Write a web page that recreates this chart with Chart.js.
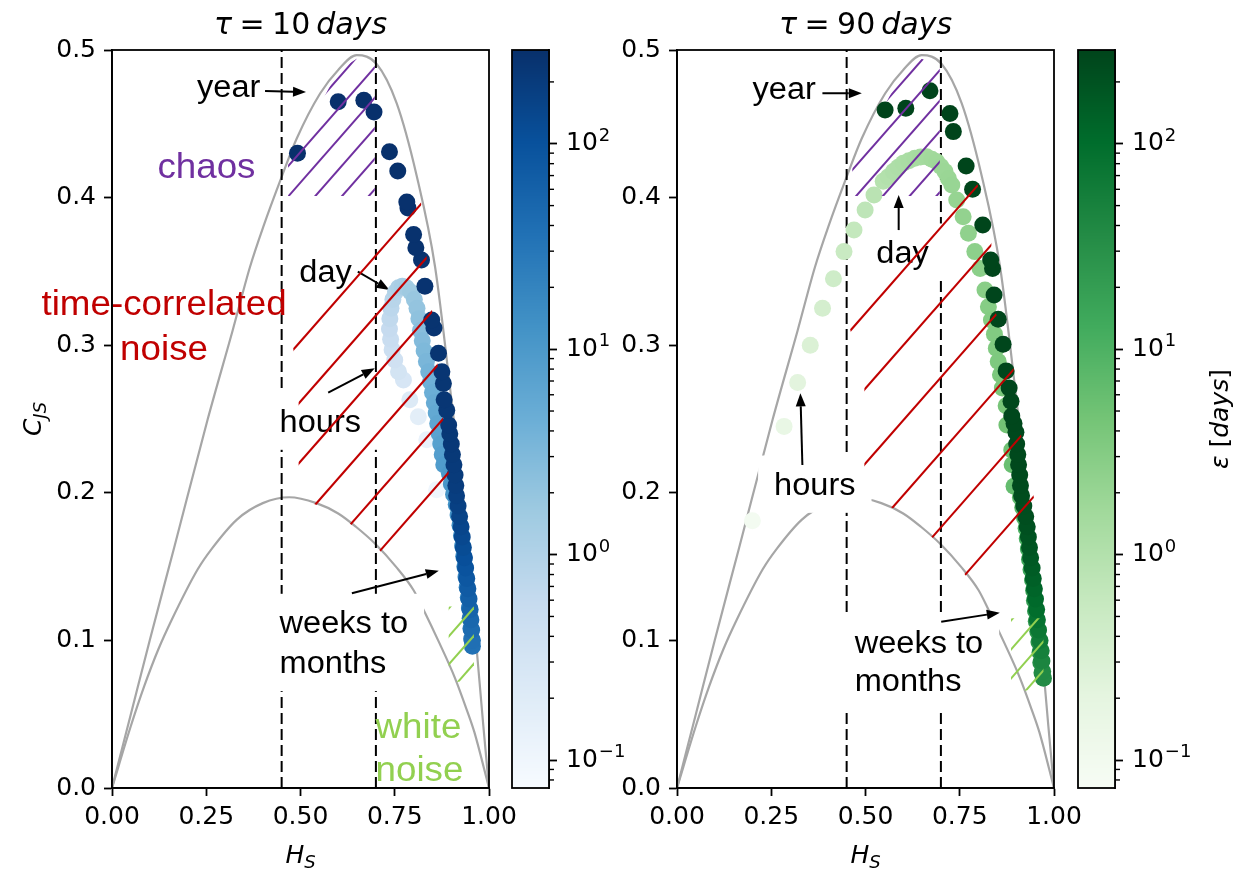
<!DOCTYPE html>
<html>
<head>
<meta charset="utf-8">
<script src="https://cdn.jsdelivr.net/npm/chart.js@4.4.0/dist/chart.umd.min.js"></script>
<style>
  html, body { margin: 0; padding: 0; background: #fff; }
  #wrap { position: relative; width: 1236px; height: 871px; }
  #wrap canvas { position: absolute; left: 0; top: 0; }
</style>
</head>
<body>
<div id="wrap">
  <canvas id="leftPlot" width="1236" height="871"></canvas>
  <canvas id="leftBar" width="1236" height="871"></canvas>
  <canvas id="rightPlot" width="1236" height="871"></canvas>
  <canvas id="rightBar" width="1236" height="871"></canvas>
</div>
<script>
// ---- values ----
const xTicks = [0, 0.25, 0.5, 0.75, 1.0];
const yTicks = [0, 0.1, 0.2, 0.3, 0.4, 0.5];
const barTicks = [0.1, 1, 10, 100];
const barTickExponents = ["\u22121", "0", "1", "2"];
const barMinorTicks = [0.08, 0.09, 0.2, 0.3, 0.4, 0.5, 0.6, 0.7, 0.8, 0.9, 2, 3, 4, 5, 6, 7, 8, 9,
                       20, 30, 40, 50, 60, 70, 80, 90, 200];
const epsRange = [0.0731, 286];
const regimeLines = [0.45, 0.70];

// upper / lower bounds of the complexity-entropy plane
const upperH = [0, 0.05, 0.10, 0.165, 0.254, 0.32, 0.366, 0.401, 0.45, 0.49, 0.552, 0.60, 0.649,
                0.702, 0.755, 0.808, 0.857, 0.905, 0.932, 0.95, 0.967, 0.985, 1.0];
const upperC = [0, 0.05, 0.10, 0.163, 0.25, 0.31, 0.353, 0.38, 0.414, 0.440, 0.4705, 0.4865, 0.4965,
                0.4905, 0.464, 0.415, 0.353, 0.253, 0.195, 0.148, 0.095, 0.042, 0];
const lowerH = [0, 0.05, 0.0855, 0.123, 0.1585, 0.227, 0.263, 0.332, 0.40, 0.47, 0.542, 0.60, 0.647,
                0.70, 0.753, 0.80, 0.826, 0.867, 0.909, 0.941, 0.961, 1.0];
const lowerC = [0, 0.042, 0.069, 0.094, 0.114, 0.148, 0.1615, 0.182, 0.193, 0.197, 0.193, 0.186, 0.177,
                0.165, 0.150, 0.134, 0.121, 0.099, 0.075, 0.053, 0.038, 0];

// tau = 10 days : entropy, complexity, epsilon (days)
const tau10H = [
  0.861, 0.835, 0.8125, 0.790, 0.773, 0.760, 0.750, 0.743, 0.739, 0.736, 0.737, 0.740, 0.745, 0.752,
  0.760, 0.770, 0.781, 0.792, 0.802, 0.809, 0.814, 0.818, 0.823, 0.828, 0.834, 0.840, 0.845, 0.850,
  0.855, 0.860, 0.864, 0.868, 0.872, 0.876, 0.880,
  0.895, 0.900, 0.906, 0.913, 0.918, 0.923, 0.927, 0.930, 0.933, 0.936, 0.939, 0.942, 0.945, 0.948,
  0.950, 0.952, 0.954, 0.956,
  0.956, 0.954, 0.952, 0.950, 0.947, 0.944, 0.941, 0.938, 0.935, 0.932, 0.929, 0.926, 0.922, 0.918,
  0.914, 0.912, 0.910, 0.907, 0.903, 0.900, 0.896,
  0.893, 0.888, 0.881, 0.879, 0.875, 0.866, 0.854, 0.848, 0.830, 0.821, 0.806, 0.800, 0.785, 0.782,
  0.758, 0.736, 0.695, 0.668, 0.600, 0.492
];
const tau10C = [
  0.202, 0.236, 0.2516, 0.263, 0.2764, 0.282, 0.290, 0.297, 0.304, 0.311, 0.318, 0.325, 0.331, 0.336,
  0.339, 0.340, 0.339, 0.336, 0.331, 0.325, 0.318, 0.310, 0.303, 0.296, 0.289, 0.282, 0.275, 0.268,
  0.261, 0.254, 0.247, 0.240, 0.233, 0.226, 0.219,
  0.213, 0.206, 0.199, 0.192, 0.185, 0.178, 0.171, 0.164, 0.157, 0.150, 0.143, 0.136, 0.129, 0.122,
  0.115, 0.108, 0.101, 0.096,
  0.100, 0.107, 0.114, 0.121, 0.128, 0.135, 0.142, 0.149, 0.156, 0.163, 0.170, 0.177, 0.184, 0.191,
  0.198, 0.205, 0.212, 0.219, 0.226, 0.233, 0.240,
  0.246, 0.256, 0.263, 0.274, 0.282, 0.2945, 0.3117, 0.317, 0.340, 0.3577, 0.366, 0.375, 0.393, 0.397,
  0.418, 0.431, 0.458, 0.466, 0.465, 0.430
];
const tau10Eps = [
  0.1, 0.13, 0.17, 0.22, 0.28, 0.33, 0.38, 0.44, 0.5, 0.57, 0.65, 0.74, 0.84, 0.96,
  1.1, 1.25, 1.4, 1.6, 1.8, 2.0, 2.2, 2.5, 2.8, 3.1, 3.4, 3.8, 4.2, 4.6,
  5.1, 5.6, 6.2, 6.8, 7.5, 8.2, 9.0,
  10, 11, 12, 13, 14, 15, 16, 17, 18.5, 20, 21.5, 23, 25, 27, 29, 31, 33, 36,
  38, 44, 50, 57, 65, 74, 84, 95, 107, 120, 133, 146, 160, 172, 184, 194, 203, 210, 216, 221, 225,
  228, 232, 236, 240, 244, 248, 252, 256, 260, 264, 267, 270, 273, 276, 278, 280, 282, 284, 285, 286
];

// tau = 90 days
const tau90H = [
  0.200, 0.284, 0.320, 0.3535, 0.386, 0.415, 0.443, 0.4695, 0.499, 0.5225, 0.547, 0.560, 0.574, 0.587,
  0.600, 0.615, 0.631, 0.646, 0.662, 0.676, 0.689, 0.700, 0.711, 0.720, 0.729, 0.742, 0.759, 0.773,
  0.790, 0.804, 0.817, 0.826, 0.834, 0.842, 0.847, 0.852, 0.858, 0.863, 0.873, 0.875, 0.888, 0.889, 0.894,
  0.911, 0.917, 0.922, 0.926, 0.929, 0.932, 0.935, 0.939, 0.943, 0.946, 0.948, 0.951, 0.953, 0.957,
  0.960, 0.963, 0.965, 0.968, 0.972,
  0.970, 0.968, 0.966, 0.963, 0.959, 0.956, 0.954, 0.951, 0.948, 0.945, 0.942, 0.938, 0.935, 0.932,
  0.929, 0.925, 0.920, 0.914, 0.911, 0.909, 0.906, 0.904, 0.901, 0.899,
  0.894, 0.888, 0.886, 0.881, 0.873, 0.865, 0.852, 0.841, 0.837, 0.832, 0.811, 0.784, 0.767, 0.733,
  0.724, 0.671, 0.607, 0.552
];
const tau90C = [
  0.181, 0.245, 0.2747, 0.300, 0.325, 0.345, 0.3634, 0.378, 0.3916, 0.4018, 0.411, 0.414, 0.4176, 0.4205,
  0.4232, 0.425, 0.4266, 0.4275, 0.4277, 0.426, 0.4243, 0.421, 0.4176, 0.413, 0.4085, 0.3984, 0.387, 0.3758,
  0.3634, 0.352, 0.3374, 0.326, 0.317, 0.3075, 0.298, 0.289, 0.280, 0.271, 0.259, 0.246, 0.229, 0.219, 0.2045,
  0.197, 0.190, 0.183, 0.176, 0.169, 0.162, 0.155, 0.148, 0.141, 0.134, 0.127, 0.120, 0.113, 0.106,
  0.099, 0.092, 0.085, 0.078, 0.0744,
  0.079, 0.086, 0.093, 0.100, 0.107, 0.114, 0.121, 0.128, 0.135, 0.142, 0.149, 0.156, 0.163, 0.170,
  0.177, 0.184, 0.191, 0.198, 0.205, 0.212, 0.219, 0.226, 0.233, 0.241,
  0.247, 0.252, 0.262, 0.271, 0.2826, 0.3007, 0.3176, 0.334, 0.352, 0.3577, 0.3814, 0.4056, 0.4214, 0.4447,
  0.457, 0.4724, 0.4605, 0.4593
];
const tau90Eps = [
  0.09, 0.16, 0.22, 0.29, 0.37, 0.45, 0.54, 0.63, 0.73, 0.83, 0.93, 1.0, 1.07, 1.14,
  1.21, 1.28, 1.35, 1.42, 1.5, 1.58, 1.66, 1.74, 1.82, 1.9, 1.98, 2.1, 2.25, 2.4,
  2.55, 2.7, 2.85, 3.0, 3.15, 3.3, 3.45, 3.6, 3.8, 4.0, 4.3, 4.7, 5.2, 5.7, 6.3,
  7, 8, 9, 10, 11, 12.5, 14, 15.5, 17, 19, 21, 23, 25, 27, 29, 31, 33, 35, 36,
  38, 45, 53, 62, 72, 84, 97, 111, 125, 140, 155, 170, 185, 198, 210, 220, 229, 236, 242, 247, 251, 255, 258, 261,
  263, 265, 267, 269, 271, 273, 275, 277, 278, 279, 280, 281, 282, 283, 284, 285, 286, 286
];

// ---- styling ----
const BLUES = ['#f7fbff', '#deebf7', '#c6dbef', '#9ecae1', '#6baed6', '#4292c6', '#2171b5', '#08519c', '#08306b'];
const GREENS = ['#f7fcf5', '#e5f5e0', '#c7e9c0', '#a1d99b', '#74c476', '#41ab5d', '#238b45', '#006d2c', '#00441b'];
const AXIS_FONT = '"DejaVu Sans", sans-serif';
const NOTE_FONT = '"Liberation Sans", Arial, sans-serif';
const CURVE = '#a6a6a6';
const PURPLE = '#7030a0', RED = '#c00000', GREEN = '#92d050';
const W = 1236, H = 871, PLOT_TOP = 50, PLOT_BOTTOM = 788;
const TICK_SIZE = 25;
const STRETCH = 1.05;      // the figure text is a little wide
const HATCH_SLOPE = 1.14;  // pixel slope of the hatch strokes

function epsFraction(e) {
  const lo = Math.log10(epsRange[0]), hi = Math.log10(epsRange[1]);
  return (Math.log10(e) - lo) / (hi - lo);
}
function hexToRgb(h) {
  const n = parseInt(h.slice(1), 16);
  return [n >> 16, (n >> 8) & 255, n & 255];
}
function colorAt(stops, f) {
  f = Math.max(0, Math.min(1, f));
  const p = f * (stops.length - 1);
  const i = Math.min(Math.floor(p), stops.length - 2);
  const t = p - i;
  const a = hexToRgb(stops[i]), b = hexToRgb(stops[i + 1]);
  const c = a.map((v, k) => Math.round(v + (b[k] - v) * t));
  return `rgb(${c[0]},${c[1]},${c[2]})`;
}

// draw a run of (possibly italic / subscript) text pieces
function drawMath(ctx, parts, x, y, size, align) {
  const fonts = parts.map(p => `${p.it ? 'italic ' : ''}${Math.round(size * (p.s || 1))}px ${AXIS_FONT}`);
  const widths = parts.map((p, i) => { ctx.font = fonts[i]; return ctx.measureText(p.t).width; });
  const total = widths.reduce((a, b) => a + b, 0);
  let cx = align === 'center' ? x - total / 2 : x;
  ctx.textAlign = 'left';
  ctx.textBaseline = 'alphabetic';
  parts.forEach((p, i) => {
    ctx.font = fonts[i];
    ctx.fillText(p.t, cx, y + (p.dy || 0));
    cx += widths[i];
  });
}

function px(chart, h, c) {
  return [chart.scales.x.getPixelForValue(h), chart.scales.y.getPixelForValue(c)];
}

function drawArrow(ctx, x1, y1, x2, y2) {
  const a = Math.atan2(y2 - y1, x2 - x1), L = 13, hw = 5;
  const bx = x2 - L * Math.cos(a), by = y2 - L * Math.sin(a);
  ctx.beginPath(); ctx.moveTo(x1, y1); ctx.lineTo(bx, by); ctx.stroke();
  ctx.beginPath();
  ctx.moveTo(x2, y2);
  ctx.lineTo(bx - hw * Math.sin(a), by + hw * Math.cos(a));
  ctx.lineTo(bx + hw * Math.sin(a), by - hw * Math.cos(a));
  ctx.closePath(); ctx.fill();
}

function drawNotes(chart, notes) {
  const ctx = chart.ctx;
  ctx.save();
  notes.labels.forEach(lb => {
    const [x, yb] = px(chart, lb.h, lb.c);
    ctx.font = `${lb.size}px ${NOTE_FONT}`;
    const widths = lb.lines.map(t => ctx.measureText(t).width * STRETCH);
    const maxW = Math.max(...widths);
    const left = lb.align === 'center' ? x - maxW / 2 : x;
    const last = yb + (lb.lines.length - 1) * (lb.gap || 0);
    if (lb.box) {
      const padX = 16, padY = 11;
      ctx.fillStyle = '#fff';
      ctx.fillRect(left - padX, yb - 0.92 * lb.size - padY, maxW + 2 * padX,
                   last - yb + 1.14 * lb.size + 2 * padY);
    }
    ctx.fillStyle = lb.color;
    ctx.textAlign = 'left';
    ctx.textBaseline = 'alphabetic';
    lb.lines.forEach((t, i) => {
      const lx = lb.align === 'center' ? x - widths[i] / 2 : left;
      ctx.save();
      ctx.translate(lx, yb + i * (lb.gap || 0));
      ctx.scale(STRETCH, 1);
      ctx.fillText(t, 0, 0);
      ctx.restore();
    });
  });
  ctx.strokeStyle = '#000';
  ctx.fillStyle = '#000';
  ctx.lineWidth = 2;
  notes.arrows.forEach(ar => {
    const [x1, y1] = px(chart, ar[0][0], ar[0][1]);
    const [x2, y2] = px(chart, ar[1][0], ar[1][1]);
    drawArrow(ctx, x1, y1, x2, y2);
  });
  ctx.restore();
}

function drawHatch(chart, hatch) {
  const ctx = chart.ctx;
  const pts = hatch.h.map((h, i) => px(chart, h, hatch.c[i]));
  ctx.save();
  ctx.beginPath();
  pts.forEach(([x, y], i) => (i ? ctx.lineTo(x, y) : ctx.moveTo(x, y)));
  ctx.closePath();
  ctx.clip();
  const xs = pts.map(p => p[0]), ys = pts.map(p => p[1]);
  const x0 = Math.min(...xs) - 2, x1 = Math.max(...xs) + 2;
  const bMin = Math.min(...ys) + HATCH_SLOPE * x0, bMax = Math.max(...ys) + HATCH_SLOPE * x1;
  ctx.strokeStyle = hatch.color;
  ctx.lineWidth = 2;
  let b = hatch.offset + Math.ceil((bMin - hatch.offset) / hatch.step) * hatch.step;
  for (; b <= bMax; b += hatch.step) {
    ctx.beginPath();
    ctx.moveTo(x0, b - HATCH_SLOPE * x0);
    ctx.lineTo(x1, b - HATCH_SLOPE * x1);
    ctx.stroke();
  }
  ctx.restore();
}

function notesPlugin(notes) {
  return {
    id: 'notes',
    beforeDatasetDraw(chart, args) {
      if (args.index === 0) drawNotes(chart, notes);
    },
    afterDatasetsDraw(chart) {
      notes.hatches.forEach(hh => drawHatch(chart, hh));
    },
    afterDraw(chart) {
      const { ctx, chartArea: a } = chart;
      ctx.save();
      ctx.strokeStyle = '#000';
      ctx.lineWidth = 1.8;
      ctx.strokeRect(a.left, a.top, a.right - a.left, a.bottom - a.top);
      ctx.fillStyle = '#000';
      const mid = (a.left + a.right) / 2;
      drawMath(ctx, notes.title, mid, 34, 30, 'center');
      drawMath(ctx, [{ t: 'H', it: true }, { t: 'S', it: true, s: 0.7, dy: 5 }], mid, 863, 25, 'center');
      if (notes.yLabel) {
        ctx.save();
        ctx.translate(41, (a.top + a.bottom) / 2);
        ctx.rotate(-Math.PI / 2);
        drawMath(ctx, [{ t: 'C', it: true }, { t: 'JS', it: true, s: 0.7, dy: 5 }], 0, 0, 25, 'center');
        ctx.restore();
      }
      ctx.restore();
    }
  };
}

function buildPanel(id, frame, hs, cs, eps, stops, notes) {
  const points = hs.map((h, i) => ({ x: h, y: cs[i] }));
  const colors = eps.map(e => colorAt(stops, epsFraction(e)));
  const lineSet = (xs, ys) => xs.map((x, i) => ({ x, y: ys[i] }));
  const datasets = [
    { type: 'scatter', data: points, backgroundColor: colors, pointRadius: 8.5, pointHoverRadius: 8.5,
      pointBorderWidth: 0, order: 0 },
    ...regimeLines.map(h => ({
      type: 'line', data: [{ x: h, y: 0 }, { x: h, y: 0.5 }], borderColor: '#000', borderWidth: 2,
      borderDash: [11, 5], pointRadius: 0, fill: false, order: 1
    })),
    { type: 'line', data: lineSet(upperH, upperC), borderColor: CURVE, borderWidth: 2.2, pointRadius: 0,
      cubicInterpolationMode: 'monotone', fill: false, order: 2 },
    { type: 'line', data: lineSet(lowerH, lowerC), borderColor: CURVE, borderWidth: 2.2, pointRadius: 0,
      cubicInterpolationMode: 'monotone', fill: false, order: 2 }
  ];
  const tickFont = { family: AXIS_FONT, size: TICK_SIZE };
  const grid = { display: true, drawOnChartArea: false, drawTicks: true, tickLength: 8, tickWidth: 1.8, tickColor: '#000' };
  const border = { display: true, color: '#000', width: 1.8 };
  return new Chart(document.getElementById(id), {
    type: 'scatter',
    data: { datasets },
    options: {
      responsive: false,
      animation: false,
      events: [],
      layout: { padding: { left: 0, right: W - frame.right, top: PLOT_TOP, bottom: 0 } },
      plugins: { legend: { display: false }, tooltip: { enabled: false } },
      scales: {
        x: {
          type: 'linear', min: 0, max: 1,
          afterFit: s => { s.height = H - PLOT_BOTTOM; },
          afterBuildTicks: s => { s.ticks = xTicks.map(v => ({ value: v })); },
          ticks: { autoSkip: false, maxRotation: 0, padding: 6, color: '#000', font: tickFont,
                   callback: v => Number(v).toFixed(2) },
          grid, border
        },
        y: {
          type: 'linear', min: 0, max: 0.5,
          afterFit: s => { s.width = frame.left; },
          afterBuildTicks: s => { s.ticks = yTicks.map(v => ({ value: v })); },
          ticks: { autoSkip: false, padding: 8, color: '#000', font: tickFont,
                   callback: v => Number(v).toFixed(1) },
          grid, border
        }
      }
    },
    plugins: [notesPlugin(notes)]
  });
}

function colorbarPlugin(stops, withLabel) {
  return {
    id: 'colorbar',
    beforeDatasetsDraw(chart) {
      const { ctx, chartArea: a } = chart;
      const ys = chart.scales.y;
      for (let y = Math.floor(a.top); y < Math.ceil(a.bottom); y++) {
        ctx.fillStyle = colorAt(stops, epsFraction(ys.getValueForPixel(y + 0.5)));
        ctx.fillRect(a.left, y, a.right - a.left, 1);
      }
    },
    afterDraw(chart) {
      const { ctx, chartArea: a } = chart;
      const ys = chart.scales.y;
      ctx.save();
      ctx.strokeStyle = '#000';
      ctx.lineWidth = 1.4;
      barMinorTicks.forEach(v => {
        const y = ys.getPixelForValue(v);
        ctx.beginPath(); ctx.moveTo(a.right, y); ctx.lineTo(a.right + 5, y); ctx.stroke();
      });
      ctx.lineWidth = 1.8;
      ctx.strokeRect(a.left, a.top, a.right - a.left, a.bottom - a.top);
      // exponents next to the "10" tick labels
      ctx.fillStyle = '#000';
      ctx.font = `${TICK_SIZE}px ${AXIS_FONT}`;
      const base = ctx.measureText('10').width;
      ctx.font = `${Math.round(TICK_SIZE * 0.7)}px ${AXIS_FONT}`;
      ctx.textAlign = 'left';
      ctx.textBaseline = 'alphabetic';
      barTicks.forEach((v, i) => {
        const y = ys.getPixelForValue(v);
        ctx.fillText(barTickExponents[i], a.right + 8 + 9 + base + 1, y - 3);
      });
      if (withLabel) {
        ctx.translate(1228, (a.top + a.bottom) / 2);
        ctx.rotate(-Math.PI / 2);
        drawMath(ctx, [{ t: '\u03B5', it: true }, { t: ' [' }, { t: 'days', it: true }, { t: ']' }], 0, 0, 25, 'center');
      }
      ctx.restore();
    }
  };
}

function buildColorbar(id, frame, stops, withLabel) {
  return new Chart(document.getElementById(id), {
    type: 'scatter',
    data: { datasets: [] },
    options: {
      responsive: false,
      animation: false,
      events: [],
      layout: { padding: { left: frame.left, right: 0, top: PLOT_TOP, bottom: H - PLOT_BOTTOM } },
      plugins: { legend: { display: false }, tooltip: { enabled: false } },
      scales: {
        x: { display: false, min: 0, max: 1 },
        y: {
          type: 'logarithmic', position: 'right', min: epsRange[0], max: epsRange[1],
          afterFit: s => { s.width = W - frame.right; },
          afterBuildTicks: s => { s.ticks = barTicks.map(v => ({ value: v })); },
          ticks: { autoSkip: false, padding: 9, color: '#000', font: { family: AXIS_FONT, size: TICK_SIZE },
                   callback: () => '10' },
          grid: { display: true, drawOnChartArea: false, tickLength: 8, tickWidth: 1.8, tickColor: '#000' },
          border: { display: true, color: '#000', width: 1.8 }
        }
      }
    },
    plugins: [colorbarPlugin(stops, withLabel)]
  });
}

// ---- annotations (positions in data units) ----
const note = (lines, h, c, extra) => Object.assign({ lines, h, c, size: 31, color: '#000', box: true, align: 'left', gap: 39 }, extra || {});

const leftNotes = {
  title: [{ t: '\u03C4', it: true }, { t: '\u2005=\u200510\u2009' }, { t: 'days', it: true }],
  yLabel: true,
  labels: [
    note(['year'], 0.2255, 0.4682),
    note(['day'], 0.497, 0.3428),
    note(['hours'], 0.4446, 0.2412),
    note(['weeks to', 'months'], 0.4446, 0.1048, { gap: 40 }),
    note(['chaos'], 0.1204, 0.4131, { size: 35, color: PURPLE, box: false }),
    note(['time-correlated', 'noise'], 0.138, 0.3205, { size: 35, color: RED, box: false, align: 'center', gap: 45 }),
    note(['white', 'noise'], 0.699, 0.0337, { size: 35, color: GREEN, box: false, gap: 43 })
  ],
  arrows: [
    [[0.406, 0.4722], [0.5146, 0.4715]],
    [[0.652, 0.3498], [0.736, 0.3374]],
    [[0.5735, 0.2678], [0.697, 0.2843]],
    [[0.6363, 0.1319], [0.8668, 0.1472]]
  ],
  hatches: [
    { h: [0.467, 0.467, 0.50, 0.55, 0.60, 0.649, 0.697, 0.697], c: [0.401, 0.425, 0.445, 0.462, 0.486, 0.494, 0.489, 0.401],
      color: PURPLE, offset: 464, step: 30.5 },
    { h: [0.478, 0.818, 0.897, 0.76, 0.70, 0.60, 0.531, 0.495, 0.495], c: [0.303, 0.401, 0.203, 0.146, 0.164, 0.186, 0.193, 0.195, 0.27],
      color: RED, offset: 684, step: 60 },
    { h: [0.893, 0.893, 0.96, 0.96], c: [0.072, 0.123, 0.123, 0.072], color: GREEN, offset: 1148, step: 28 }
  ]
};

const rightNotes = {
  title: [{ t: '\u03C4', it: true }, { t: '\u2005=\u200590\u2009' }, { t: 'days', it: true }],
  yLabel: false,
  labels: [
    note(['year'], 0.2003, 0.4668),
    note(['day'], 0.5286, 0.3557),
    note(['hours'], 0.2576, 0.1985),
    note(['weeks to', 'months'], 0.4714, 0.0913, { gap: 38 })
  ],
  arrows: [
    [[0.3857, 0.4707], [0.4902, 0.4707]],
    [[0.588, 0.378], [0.588, 0.4018]],
    [[0.3326, 0.2188], [0.3273, 0.2674]],
    [[0.7008, 0.1127], [0.8562, 0.1188]]
  ],
  hatches: [
    { h: [0.465, 0.465, 0.50, 0.55, 0.60, 0.649, 0.697, 0.697], c: [0.401, 0.425, 0.445, 0.462, 0.486, 0.494, 0.489, 0.401],
      color: PURPLE, offset: 1111, step: 30.5 },
    { h: [0.458, 0.796, 0.834, 0.832, 0.887, 0.912, 0.952, 0.80, 0.70, 0.60, 0.553, 0.497, 0.497],
      c: [0.312, 0.41, 0.37, 0.33, 0.297, 0.24, 0.19, 0.133, 0.165, 0.186, 0.192, 0.195, 0.273],
      color: RED, offset: 1300, step: 75 },
    { h: [0.886, 0.886, 0.972, 0.972], c: [0.066, 0.115, 0.115, 0.066], color: GREEN, offset: 1802, step: 29 }
  ]
};

buildPanel('leftPlot', { left: 112, right: 489 }, tau10H, tau10C, tau10Eps, BLUES, leftNotes);
buildColorbar('leftBar', { left: 512, right: 549 }, BLUES, false);
buildPanel('rightPlot', { left: 677, right: 1054 }, tau90H, tau90C, tau90Eps, GREENS, rightNotes);
buildColorbar('rightBar', { left: 1078, right: 1115 }, GREENS, true);
</script>
</body>
</html>
